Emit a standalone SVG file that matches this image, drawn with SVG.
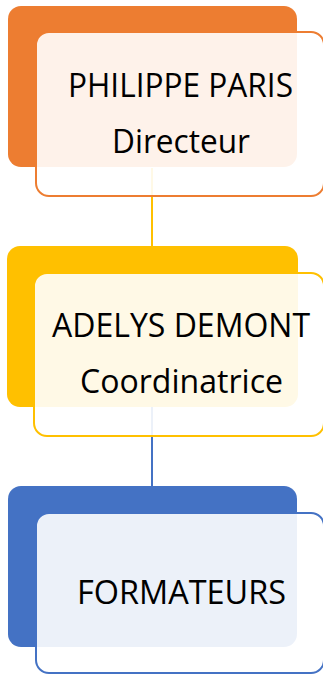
<svg xmlns="http://www.w3.org/2000/svg" width="323" height="675" viewBox="0 0 323 675">
<style>
.front{fill:#fff;fill-opacity:0.9;stroke-width:2}
.t{font-family:"Open Sans","Liberation Sans",sans-serif;font-size:32px;fill:#000}
.c{fill:none;stroke-width:2}
</style>
<rect width="323" height="675" fill="#fff"/>
<g id="connectors">
<line class="c" x1="152" y1="168" x2="152" y2="246" stroke="#FFC000"/>
<line class="c" x1="152" y1="407" x2="152" y2="486" stroke="#4472C4"/>
</g>
<g id="node1">
<rect x="8" y="6" width="289" height="161" rx="13" fill="#ED7D31"/>
<rect class="front" x="36" y="32" width="288" height="164" rx="13" stroke="#ED7D31"/>
<text class="t" x="68" y="97" textLength="225" lengthAdjust="spacingAndGlyphs">PHILIPPE PARIS</text>
<text class="t" x="112" y="153" textLength="138" lengthAdjust="spacingAndGlyphs">Directeur</text>
</g>
<g id="node2">
<rect x="7" y="246" width="291" height="161" rx="13" fill="#FFC000"/>
<rect class="front" x="34" y="273" width="290" height="163" rx="13" stroke="#FFC000"/>
<text class="t" x="52" y="337" textLength="258" lengthAdjust="spacingAndGlyphs">ADELYS DEMONT</text>
<text class="t" x="80" y="393" textLength="203" lengthAdjust="spacingAndGlyphs">Coordinatrice</text>
</g>
<g id="node3">
<rect x="8" y="486" width="289" height="161" rx="13" fill="#4472C4"/>
<rect class="front" x="36" y="513" width="288" height="160" rx="13" stroke="#4472C4"/>
<text class="t" x="77" y="604" textLength="209" lengthAdjust="spacingAndGlyphs">FORMATEURS</text>
</g>
</svg>
